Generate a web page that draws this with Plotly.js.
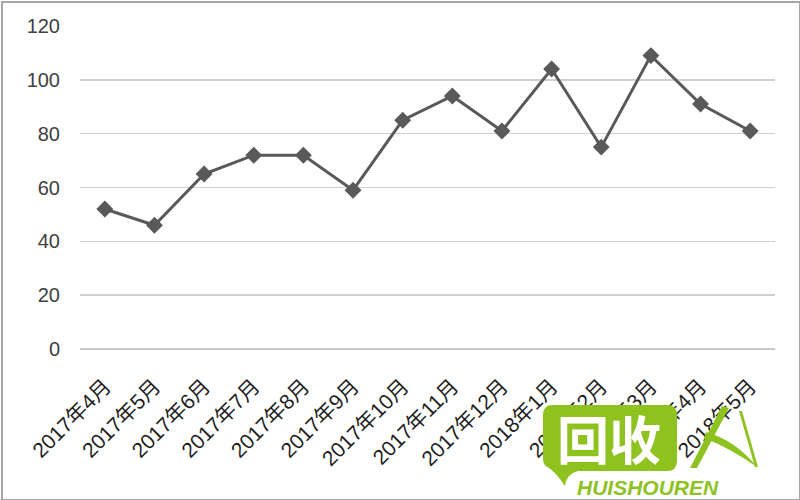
<!DOCTYPE html>
<html>
<head>
<meta charset="utf-8">
<script src="https://cdn.plot.ly/plotly-3.0.1.min.js"></script>
<style>
  html, body { margin: 0; padding: 0; background: #fff; }
  #wrap { position: relative; width: 800px; height: 500px; }
  #chart { position: absolute; left: 0; top: 0; width: 800px; height: 500px; }
  #frame { position: absolute; left: 1px; top: 1px; width: 796px; height: 496px; border: 2px solid #a6a6a6; box-sizing: content-box; pointer-events: none; }
</style>
</head>
<body>
<div id="wrap">
  <div id="chart"></div>
  <div id="frame"></div>
</div>
<script>
const categories = ["2017年4月","2017年5月","2017年6月","2017年7月","2017年8月","2017年9月","2017年10月","2017年11月","2017年12月","2018年1月","2018年2月","2018年3月","2018年4月","2018年5月"];
const values = [52, 46, 65, 72, 72, 59, 85, 94, 81, 104, 75, 109, 91, 81];
const yTicks = [0, 20, 40, 60, 80, 100, 120];

// plot area in pixels (for placing the decorative watermark)
const L = 80, R = 775, T = 26, B = 349;
const px = x => ((x - L) / (R - L)).toFixed(4);
const py = y => ((B - y) / (B - T)).toFixed(4);
function path(cmds) {
  return cmds.map(c => {
    if (c.length === 1) return c[0];
    let s = c[0];
    for (let i = 1; i < c.length; i += 2) s += (i > 1 ? ' ' : '') + px(c[i]) + ',' + py(c[i+1]);
    return s;
  }).join(' ');
}
const green = '#8dc21f';

const bubble = path([
  ['M', 553, 405], ['L', 667, 405], ['Q', 677, 405, 677, 415], ['L', 677, 461],
  ['Q', 677, 471, 667, 471], ['L', 578, 471], ['Q', 566, 474, 565, 486],
  ['Q', 556, 472, 546, 466], ['Q', 543, 464, 543, 458], ['L', 543, 415],
  ['Q', 543, 405, 553, 405], ['Z']
]);
const ren1 = path([['M', 690, 468], ['L', 722, 406], ['L', 729, 408], ['L', 697, 468], ['Z']]);
const ren2 = path([['M', 706, 432], ['Q', 735, 440, 757, 467], ['Q', 730, 448, 704, 438], ['Z']]);
const ren3 = path([['M', 739, 411], ['L', 742, 411], ['L', 758, 467], ['L', 755, 467], ['Z']]);

const trace = {
  x: categories,
  y: values,
  type: 'scatter',
  mode: 'lines+markers',
  line: { color: '#595959', width: 3 },
  marker: { symbol: 'diamond', size: 13, color: '#595959' },
  hoverinfo: 'x+y'
};

const layout = {
  width: 800,
  height: 500,
  margin: { l: L, r: 800 - R, t: T, b: 500 - B, pad: 0 },
  paper_bgcolor: '#ffffff',
  plot_bgcolor: '#ffffff',
  showlegend: false,
  font: { family: '"Liberation Sans", "Noto Sans CJK SC", sans-serif', size: 18, color: '#404040' },
  xaxis: {
    type: 'category',
    range: [-0.5, categories.length - 0.5],
    tickangle: -45,
    showgrid: false,
    showline: false,
    zeroline: false,
    ticks: '',
    ticklabelstandoff: 20,
    tickfont: { size: 21, color: '#1f1f1f', family: '"Liberation Sans", "Noto Sans CJK SC", sans-serif' }
  },
  yaxis: {
    range: [0, 120],
    tickvals: yTicks,
    ticktext: yTicks.map(String),
    showgrid: true,
    gridcolor: '#d0d0d0',
    gridwidth: 1.5,
    zeroline: true,
    zerolinecolor: '#c8c8c8',
    zerolinewidth: 2,
    showline: false,
    ticks: '',
    ticklabelstandoff: 19,
    tickfont: { size: 20, color: '#404040', family: '"Liberation Sans", sans-serif' }
  },
  shapes: [
    { type: 'path', xref: 'paper', yref: 'paper', path: bubble, fillcolor: green, line: { width: 0 }, layer: 'above' },
    { type: 'path', xref: 'paper', yref: 'paper', path: ren1, fillcolor: green, line: { width: 0 }, layer: 'above' },
    { type: 'path', xref: 'paper', yref: 'paper', path: ren2, fillcolor: green, line: { width: 0 }, layer: 'above' },
    { type: 'path', xref: 'paper', yref: 'paper', path: ren3, fillcolor: green, line: { width: 0 }, layer: 'above' }
  ],
  annotations: [
    { xref: 'paper', yref: 'paper', x: Number(px(609)), y: Number(py(438)), text: '<b>回收</b>', showarrow: false,
      xanchor: 'center', yanchor: 'middle',
      font: { family: '"Noto Sans CJK SC", sans-serif', size: 52, color: '#ffffff' } },
    { xref: 'paper', yref: 'paper', x: Number(px(648)), y: Number(py(488)), text: '<b><i>HUISHOUREN</i></b>', showarrow: false,
      xanchor: 'center', yanchor: 'middle',
      font: { family: '"Liberation Sans", sans-serif', size: 21, color: green } }
  ]
};

Plotly.newPlot('chart', [trace], layout, { displayModeBar: false, staticPlot: true });
</script>
</body>
</html>
